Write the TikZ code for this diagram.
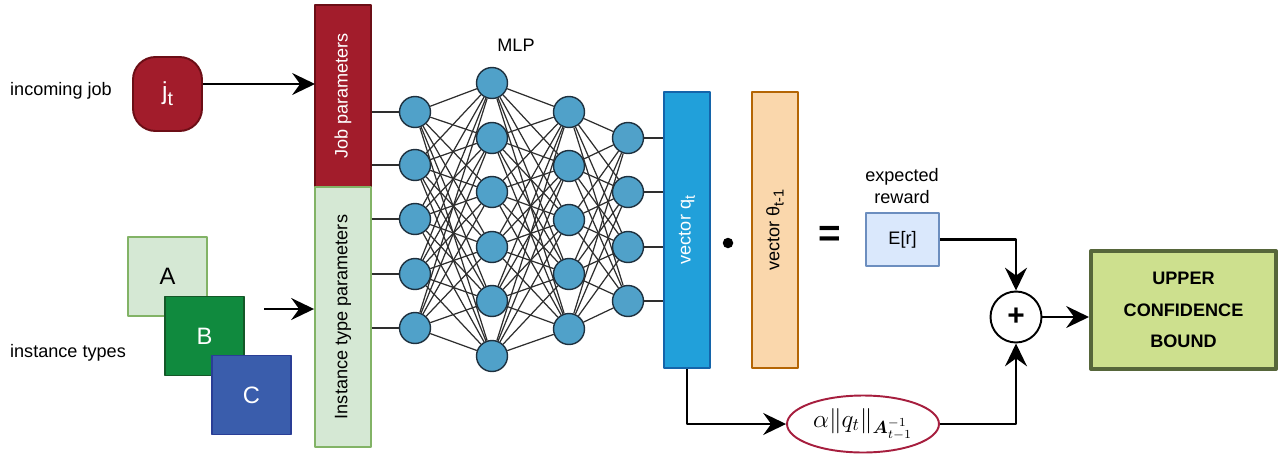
\documentclass[tikz,border=0pt]{standalone}
\usepackage{fontspec}
\setmainfont{Liberation Sans}
\usepackage{amsmath,bm}
\usetikzlibrary{arrows.meta,shapes.geometric}
\definecolor{jobred}{RGB}{162,28,43}
\definecolor{jobedge}{RGB}{108,14,22}
\definecolor{instfill}{RGB}{213,232,212}
\definecolor{instedge}{RGB}{130,179,102}
\definecolor{bfill}{RGB}{16,138,62}
\definecolor{bedge}{RGB}{20,88,40}
\definecolor{cfill}{RGB}{58,93,172}
\definecolor{cedge}{RGB}{42,62,150}
\definecolor{qfill}{RGB}{33,160,218}
\definecolor{qedge}{RGB}{20,100,170}
\definecolor{thfill}{RGB}{250,215,172}
\definecolor{thedge}{RGB}{180,101,4}
\definecolor{erfill}{RGB}{218,232,252}
\definecolor{eredge}{RGB}{108,142,191}
\definecolor{ucbfill}{RGB}{205,224,142}
\definecolor{ucbedge}{RGB}{86,102,58}
\definecolor{termedge}{RGB}{166,30,62}
\definecolor{neuronblue}{RGB}{80,161,201}
\definecolor{neuronedge}{RGB}{30,48,62}
\newcommand{\lowsub}[1]{\raisebox{-0.45ex}{\scalebox{0.8}{#1}}}

\begin{document}
\begin{tikzpicture}[x=0.02cm,y=-0.02cm,font=\fontsize{10.3}{12}\selectfont,line join=round,
  arr/.style={-{Stealth[length=13pt,width=12.5pt,inset=4.5pt]},line width=1.2pt},
  neuron/.style={circle,draw=neuronedge,fill=neuronblue,line width=0.8pt,minimum size=0.62cm,inner sep=0pt},
  wire/.style={draw=black!82,line width=0.7pt},
  vbox/.style={rectangle,line width=1.1pt,inner sep=0pt},
  letterbox/.style={vbox,minimum size=1.58cm,font=\fontsize{13.5}{15}\selectfont}]
\useasboundingbox (0,0) rectangle (1279,457);
% inputs
\node (jobtxt) at (61,91) {incoming job};
\node[vbox,rounded corners=0.45cm,draw=jobedge,fill=jobred,text=white,minimum width=1.38cm,minimum height=1.48cm,font=\fontsize{14}{15}\selectfont] (jt) at (167.5,94) {j\lowsub{t}};
\node (insttxt) at (68,353) {instance types};
\node[letterbox,draw=instedge,fill=instfill] (boxa) at (167.5,276.5) {A};
\node[letterbox,draw=bedge,fill=bfill,text=white] (boxb) at (204.5,336) {B};
\node[letterbox,draw=cedge,fill=cfill,text=white] (boxc) at (251.5,395) {C};
\node[vbox,draw=jobedge,fill=jobred,minimum width=1.12cm,minimum height=3.64cm,label={[rotate=90,text=white]center:Job parameters}] (jobbox) at (343,96) {};
\node[vbox,draw=instedge,fill=instfill,minimum width=1.12cm,minimum height=5.2cm,label={[rotate=90]center:Instance type parameters}] (instbox) at (343,317) {};
\coordinate (jobin) at (315,84);
\coordinate (instin) at (264,309);
\draw[arr] (jt.east |- jobin) -- (jobin);
\draw[arr] (instin) -- (instbox.west |- instin);
% MLP
\node (mlp) at (516,45) {MLP};
\foreach \y [count=\i] in {112,165,219,274,328} \node[neuron] (a\i) at (415,\y) {};
\foreach \y [count=\i] in {83,138,192,247,301,356} \node[neuron] (b\i) at (492,\y) {};
\foreach \y [count=\i] in {112,166,220,274,329} \node[neuron] (c\i) at (569,\y) {};
\foreach \y [count=\i] in {138,192,247,301} \node[neuron] (d\i) at (628,\y) {};
\foreach \i in {1,...,5} \foreach \j in {1,...,6} \draw[wire] (a\i) -- (b\j);
\foreach \i in {1,...,6} \foreach \j in {1,...,5} \draw[wire] (b\i) -- (c\j);
\foreach \i in {1,...,5} \foreach \j in {1,...,4} \draw[wire] (c\i) -- (d\j);
\foreach \i in {1,2} \draw[wire] (jobbox.east |- a\i) -- (a\i);
\foreach \i in {3,4,5} \draw[wire] (instbox.east |- a\i) -- (a\i);
% vectors and reward
\node[vbox,draw=qedge,fill=qfill,minimum width=0.92cm,minimum height=5.52cm,label={[rotate=90,text=white]center:vector q\lowsub{t}}] (vecq) at (687,230) {};
\foreach \i in {1,...,4} \draw[wire] (d\i) -- (vecq.west |- d\i);
\node[circle,fill=black,inner sep=0pt,minimum size=0.21cm] (dot) at (728,243) {};
\node[vbox,draw=thedge,fill=thfill,minimum width=0.92cm,minimum height=5.52cm,label={[rotate=90]center:vector θ\lowsub{t-1}}] (vecth) at (775,230) {};
\node[font=\fontsize{22}{24}\selectfont\bfseries] (eq) at (830,236) {=};
\node[align=center] (ertxt) at (902,186) {expected\\[1pt]reward};
\node[vbox,draw=eredge,fill=erfill,minimum width=1.46cm,minimum height=1.06cm] (er) at (902.5,239.5) {E[r]};
\node[ellipse,draw=termedge,fill=white,line width=1.1pt,minimum width=3.04cm,minimum height=1.14cm,inner sep=0pt,font=\fontsize{14.5}{16}\selectfont] (term) at (863,424) {$\alpha\lVert q_t\rVert_{\bm{A}_{t-1}^{-1}}$};
\node[circle,draw=black,line width=1.1pt,minimum size=1.02cm,inner sep=0pt,font=\fontsize{17}{18}\selectfont\bfseries] (plus) at (1016,317) {+};
\node[vbox,draw=ucbedge,fill=ucbfill,line width=2.3pt,minimum width=3.7cm,minimum height=2.36cm,align=center,font=\fontsize{10.3}{18}\selectfont\bfseries] (ucb) at (1183.5,310) {UPPER\\CONFIDENCE\\BOUND};
% connectors
\draw[arr] (er.east) -| (plus.north);
\draw[arr] (vecq.south) |- (term.west);
\draw[arr] (term.east) -| (plus.south);
\draw[arr] (plus.east) -- (plus.east -| ucb.west);
\end{tikzpicture}
\end{document}
